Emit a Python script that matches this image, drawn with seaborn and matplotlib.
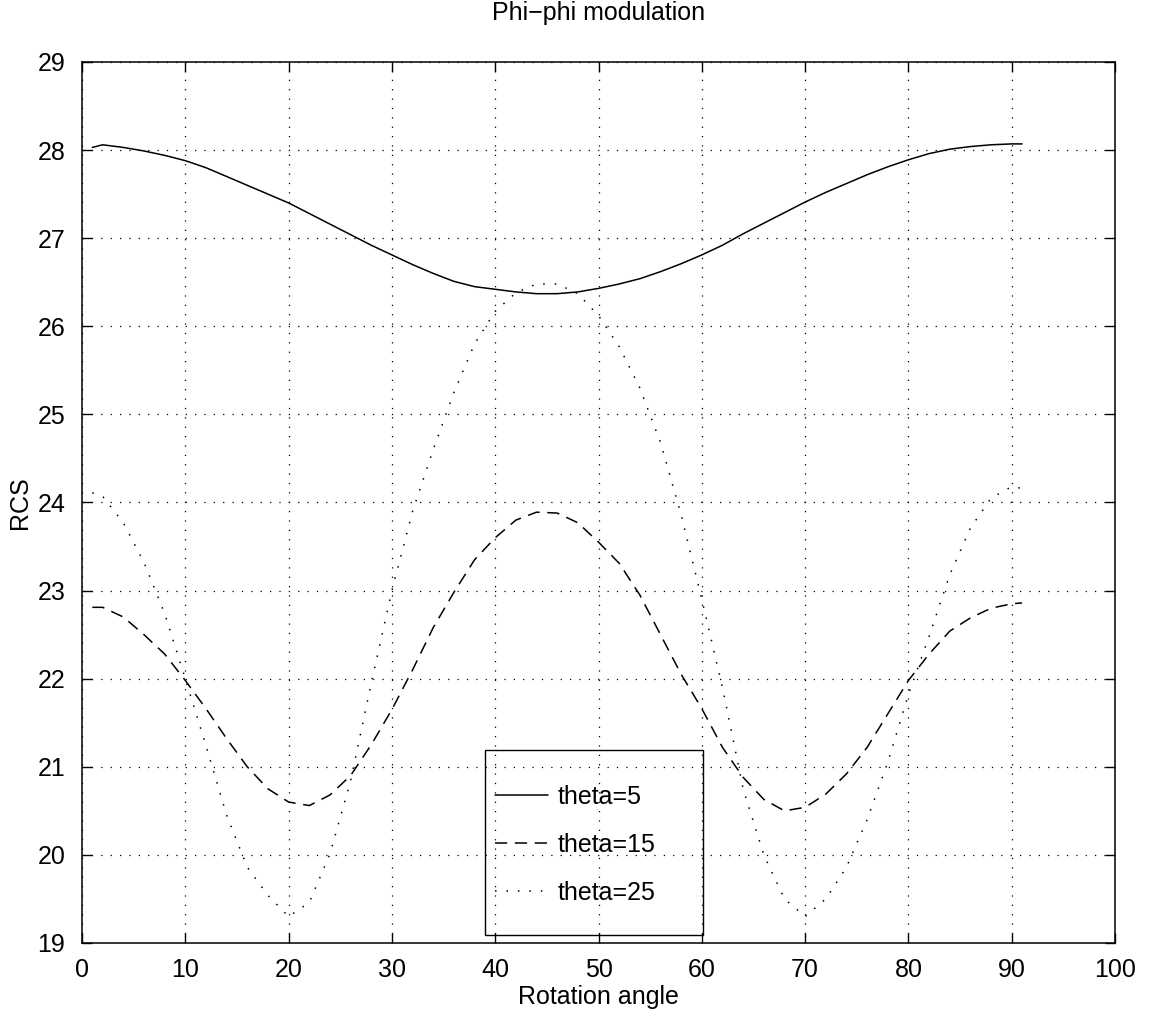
import numpy as np
import pandas as pd
import matplotlib
matplotlib.use("Agg")
import matplotlib.pyplot as plt
import seaborn as sns
from matplotlib.patches import Rectangle

# rotation angles (deg) at which the curves were read
angle = [1, 2, 4, 6, 8, 10, 12, 14, 16, 18, 20, 22, 24, 26, 28, 30, 32, 34,
         36, 38, 40, 42, 44, 46, 48, 50, 52, 54, 56, 58, 60, 62, 64, 66, 68,
         70, 72, 74, 76, 78, 80, 82, 84, 86, 88, 90, 91]

rcs_theta5 = [28.03, 28.06, 28.03, 27.99, 27.94, 27.88, 27.80, 27.70, 27.60,
              27.50, 27.40, 27.28, 27.16, 27.04, 26.92, 26.81, 26.70, 26.60,
              26.51, 26.45, 26.42, 26.39, 26.37, 26.37, 26.39, 26.43, 26.48,
              26.54, 26.62, 26.71, 26.81, 26.92, 27.05, 27.17, 27.29, 27.41,
              27.52, 27.62, 27.72, 27.81, 27.89, 27.96, 28.01, 28.04, 28.06,
              28.07, 28.07]

rcs_theta15 = [22.81, 22.81, 22.70, 22.50, 22.28, 21.98, 21.66, 21.32, 21.00,
               20.75, 20.60, 20.56, 20.68, 20.90, 21.25, 21.65, 22.10, 22.58,
               22.98, 23.35, 23.60, 23.80, 23.89, 23.88, 23.77, 23.55, 23.31,
               22.95, 22.50, 22.05, 21.66, 21.22, 20.88, 20.63, 20.50, 20.54,
               20.69, 20.92, 21.22, 21.60, 21.98, 22.28, 22.54, 22.69, 22.80,
               22.85, 22.86]

rcs_theta25 = [24.11, 24.07, 23.77, 23.32, 22.74, 22.00, 21.24, 20.45, 19.86,
               19.54, 19.30, 19.46, 20.01, 20.84, 21.95, 23.00, 23.90, 24.60,
               25.25, 25.80, 26.17, 26.38, 26.48, 26.48, 26.37, 26.12, 25.77,
               25.30, 24.68, 23.86, 22.90, 21.90, 20.75, 20.00, 19.50, 19.30,
               19.50, 19.86, 20.40, 21.05, 21.82, 22.48, 23.18, 23.71, 24.05,
               24.18, 24.16]

labels = ["theta=5", "theta=15", "theta=25"]
x_ticks = list(range(0, 101, 10))
y_ticks = list(range(19, 30))

sns.set_style("ticks")
plt.rcParams["font.family"] = ["Liberation Sans", "DejaVu Sans"]
plt.rcParams["font.size"] = 18
for key in ["text.color", "axes.labelcolor", "xtick.color", "ytick.color"]:
    plt.rcParams[key] = "black"

fig = plt.figure(figsize=(11.5, 10.21), dpi=100)
ax = fig.add_axes([0.0713, 0.0764, 0.8983, 0.8629])

styles = ["-", (0, (8, 5)), (0, (1, 6.5))]
for y, lab, ls in zip([rcs_theta5, rcs_theta15, rcs_theta25], labels, styles):
    sns.lineplot(x=angle, y=y, ax=ax, color="black", linestyle=ls,
                 linewidth=1.1, label=lab, sort=False)

ax.set_xlim(0, 100)
ax.set_ylim(19, 29)
ax.set_xticks(x_ticks)
ax.set_yticks(y_ticks)
ax.grid(True, color="black", linestyle=(0, (1, 6.5)), linewidth=0.9)
ax.tick_params(direction="in", length=7, width=1, top=True, right=True,
               labelsize=18, colors="black")
ax.tick_params(axis="x", pad=11)
ax.tick_params(axis="y", pad=12)
for sp in ax.spines.values():
    sp.set_visible(True)
    sp.set_linewidth(1.1)
    sp.set_color("black")

ax.set_title("Phi\u2212phi modulation", fontsize=18, pad=30, color="black")
ax.set_xlabel("Rotation angle", fontsize=18, labelpad=2)
ax.set_ylabel("RCS", fontsize=18, labelpad=4)

# MATLAB-style legend: entries without frame, box drawn separately
leg = ax.legend(loc="upper left", bbox_to_anchor=(0.3998, 0.1793),
                fontsize=18, frameon=False, borderpad=0, labelspacing=0.96,
                handlelength=2.1, handletextpad=0.4, borderaxespad=0)
for t in leg.get_texts():
    t.set_color("black")
ax.add_patch(Rectangle((0.390, 0.009), 0.211, 0.210, transform=ax.transAxes,
                       fill=False, edgecolor="black", linewidth=1.0,
                       zorder=5))

fig.savefig("out.png", dpi=100, facecolor="white")
